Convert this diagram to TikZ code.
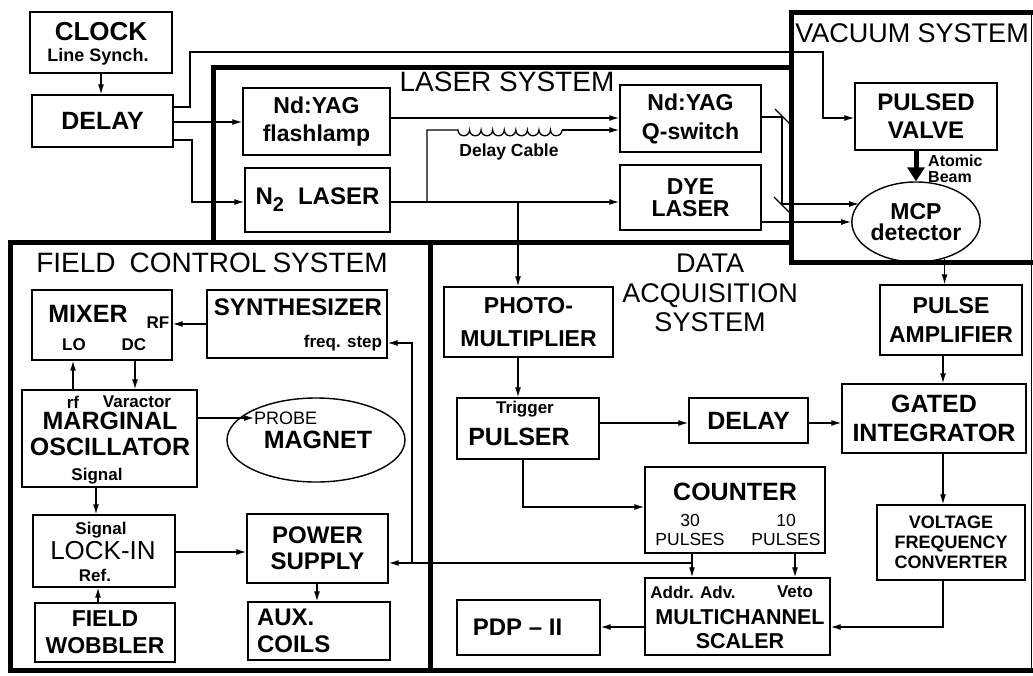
\documentclass[tikz,border=0pt]{standalone}
\usepackage{fontspec}
\setmainfont{Liberation Sans}
\usetikzlibrary{arrows.meta,shapes.geometric}
\newcommand\fsz[2]{\fontsize{#1}{#2}\selectfont}
\begin{document}
\begin{tikzpicture}[x=1pt,y=-1pt,
  box/.style={draw, line width=1.4pt, inner sep=0pt, align=center, font=\bfseries\fsz{24}{27}},
  lbl/.style={inner sep=0pt, font=\bfseries\fsz{17}{18}},
  big/.style={inner sep=0pt, align=center, font=\fsz{27}{29.5}},
  arr/.style={line width=1.3pt, -{Latex[length=10pt,width=6pt]}},
  ln/.style={line width=1.3pt},
  sys/.style={line width=5pt, line join=miter},
  mirror/.style={line width=1.3pt}]
\useasboundingbox (0,0) rectangle (1033,675);

% ---------- system frames ----------
\draw[sys] (213,242) -- (213,67) -- (791,67);
\draw[sys] (1040,12) -- (791,12) -- (791,262) -- (1040,262);
\draw[sys] (1040,670) -- (10,670) -- (10,242) -- (791,242);
\draw[sys] (430,242) -- (430,670);
\draw[line width=0.8pt] (1031,12) -- (1031,670);

\node[big, font=\fsz{28}{30}] (lasersys) at (507,82) {LASER SYSTEM};
\node[big] (vacsys) at (912,33) {VACUUM SYSTEM};
\node[big, font=\fsz{28}{30}] (fieldsys) at (212,263) {FIELD\hspace{14pt}CONTROL\hspace{6pt}SYSTEM};
\node[big] (dasys) at (710,293) {DATA\\ACQUISITION\\SYSTEM};

% ---------- top left ----------
\node[box, minimum width=142, minimum height=61] (clock) at (101,42.5) {};
\node[lbl, font=\bfseries\fsz{26}{26}] (clockt) at (101,32) {CLOCK};
\node[lbl, font=\bfseries\fsz{18}{18}] (linesync) at (98,57) {Line Synch.};
\node[box, minimum width=141, minimum height=52, font=\bfseries\fsz{25}{27}] (delay1) at (102.5,121) {DELAY};

% ---------- laser system ----------
\node[box, minimum width=147, minimum height=67, font=\bfseries\fsz{23}{28}] (flash) at (316.5,121.5) {Nd:YAG\\flashlamp};
\node[box, minimum width=145, minimum height=64] (n2) at (317.5,200) {N\raisebox{-7pt}{\fsz{20}{20}2}\hspace{14pt}LASER};
\node[box, minimum width=141, minimum height=67, font=\bfseries\fsz{23}{29}] (qsw) at (690.5,118.5) {Nd:YAG\\Q-switch};
\node[box, minimum width=141, minimum height=65, font=\bfseries\fsz{23}{22}] (dye) at (690.5,197.5) {DYE\\LASER};
\node[lbl, font=\bfseries\fsz{17.5}{18}] (dcable) at (509,152) {Delay Cable};

% ---------- vacuum system ----------
\node[box, minimum width=142, minimum height=67, font=\bfseries\fsz{24}{28}] (valve) at (926,116.5) {PULSED\\VALVE};
\node[box, ellipse, minimum width=118, minimum height=80, font=\bfseries\fsz{23}{21}] (mcp) at (916,222) {MCP\\detector};
\node[lbl, anchor=north west, align=left, font=\bfseries\fsz{16}{16}] (atomic) at (928,155) {Atomic\\Beam};

% ---------- field control ----------
\node[box, minimum width=140, minimum height=70] (mixer) at (102,325) {};
\node[lbl, font=\bfseries\fsz{25}{25}] (mixert) at (88,314) {MIXER};
\node[lbl] (rf1) at (158,323) {RF};
\node[lbl] (lo) at (74,345) {LO};
\node[lbl] (dc) at (134,345) {DC};

\node[box, minimum width=180, minimum height=68] (synth) at (297,324) {};
\node[lbl, font=\bfseries\fsz{24}{24}] (syntht) at (298,307) {SYNTHESIZER};
\node[lbl] (fstep) at (343,343) {freq. step};

\node[box, minimum width=175, minimum height=97] (marg) at (109.5,438.5) {};
\node[lbl] (rf2) at (73,402) {rf};
\node[lbl] (varactor) at (137,402) {Varactor};
\node[lbl, align=center, font=\bfseries\fsz{25}{26}] (margt) at (110,434) {MARGINAL\\OSCILLATOR};
\node[lbl] (signal1) at (97,476) {Signal};

\node[box, ellipse, minimum width=178, minimum height=84, font=\bfseries\fsz{25}{25}] (magnet) at (316,440) {\hspace{4pt}MAGNET};
\node[lbl, anchor=west, font=\fsz{18}{18}] (probe) at (254,418) {PROBE};

\node[box, minimum width=142, minimum height=72] (lockin) at (104,551) {};
\node[lbl] (signal2) at (101,530) {Signal};
\node[lbl, font=\fsz{26}{26}] (lockint) at (103,551) {LOCK-IN};
\node[lbl] (ref) at (95,575) {Ref.};

\node[box, minimum width=140, minimum height=59, font=\bfseries\fsz{23}{27}] (wobbler) at (105,632.5) {FIELD\\WOBBLER};
\node[box, minimum width=141, minimum height=69, font=\bfseries\fsz{24}{26}] (power) at (317.5,548.5) {POWER\\SUPPLY};
\node[box, minimum width=142, minimum height=58, text width=124pt, align=left, font=\bfseries\fsz{24}{27}] (aux) at (319,631) {AUX.\\COILS};

% ---------- data acquisition ----------
\node[box, minimum width=169, minimum height=70, font=\bfseries\fsz{23}{33}] (photo) at (528.5,322) {PHOTO-\\MULTIPLIER};
\node[box, minimum width=142, minimum height=61] (pulser) at (528,428.5) {};
\node[lbl] (trigger) at (525,409) {Trigger};
\node[lbl, font=\bfseries\fsz{25}{25}] (pulsert) at (519,437) {PULSER};
\node[box, minimum width=119, minimum height=45, font=\bfseries\fsz{25}{27}] (delay2) at (748.5,420.5) {DELAY};
\node[box, minimum width=142, minimum height=70, font=\bfseries\fsz{23}{29}] (pamp) at (951,320) {PULSE\\AMPLIFIER};
\node[box, minimum width=184, minimum height=69, font=\bfseries\fsz{25}{29}] (gated) at (934,418.5) {GATED\\INTEGRATOR};

\node[box, minimum width=180, minimum height=86] (counter) at (735,510) {};
\node[lbl, font=\bfseries\fsz{25}{25}] (countert) at (735,492) {COUNTER};
\node[lbl, align=center, font=\fsz{17.5}{19}] (p30) at (690,530) {30\\PULSES};
\node[lbl, align=center, font=\fsz{17.5}{19}] (p10) at (786,530) {10\\PULSES};

\node[box, minimum width=185, minimum height=77] (multi) at (737.5,616.5) {};
\node[lbl] (addr) at (693,592) {Addr. Adv.};
\node[lbl] (veto) at (795,592) {Veto};
\node[lbl, align=center, font=\bfseries\fsz{21.5}{24.5}] (multit) at (740,629) {MULTICHANNEL\\SCALER};

\node[box, minimum width=143, minimum height=55] (pdp) at (528.5,627.5) {\hspace{-22pt}PDP -- II};
\node[box, minimum width=148, minimum height=75, font=\bfseries\fsz{18}{20}] (vfc) at (951,542.5) {VOLTAGE\\FREQUENCY\\CONVERTER};

% ---------- connectors: top ----------
\draw[arr] (clock.south) -- (clock.south |- delay1.north);
\draw[arr] (delay1.east |- 0,107) -| (190,52) -| (823,118) -- (valve.west |- 823,118);
\draw[arr] (delay1.east |- 0,122) -- (flash.west |- 0,122);
\draw[arr] (delay1.east |- 0,140) -| (192,202) -- (n2.west |- 0,202);

\draw[arr] (flash.east |- 0,118) -- (qsw.west |- 0,118);
\coordinate (j1) at (518,202);
\draw[arr] (n2.east |- 0,202) -- (dye.west |- 0,202);
\draw[ln] (n2.east |- 0,202) -| (427,130) -- (458,130)
  \foreach \i in {1,...,9} { arc[start angle=180, end angle=360, radius=5.78pt] };
\draw[arr] (562,130) -- (qsw.west |- 0,130);
\draw[arr] (j1) -- (photo.north -| j1);

% laser beams to MCP via mirrors
\coordinate (m1) at (782,117);
\coordinate (m2) at (782,204);
\draw[ln] (qsw.east |- m1) -- (m1) -- (m2);
\draw[arr] (m2) -- (m2 -| mcp.161);
\draw[mirror] (775,109) -- (790,124);
\draw[mirror] (774,197) -- (789,212);
\draw[arr] (dye.east |- mcp.west) -- (mcp.west);

% atomic beam
\draw[line width=5pt, -{Triangle[length=14pt,width=17pt]}] (valve.south -| mcp.north) -- (mcp.north);

% ---------- connectors: data acquisition ----------
\coordinate (colx) at (943,0);
\draw[arr] (mcp.-52.8) -- (mcp.-52.8 |- pamp.north);
\draw[arr] (pamp.south -| colx) -- (gated.north -| colx);
\draw[arr] (gated.south -| colx) -- (vfc.north -| colx);
\draw[arr] (vfc.south -| colx) |- (multi.east |- 0,627);
\draw[arr] (multi.west |- 0,627) -- (pdp.east |- 0,627);
\draw[arr] (photo.south -| j1) -- (pulser.north -| j1);
\draw[arr] (pulser.east |- 0,423) -- (delay2.west |- 0,423);
\draw[arr] (delay2.east |- 0,423) -- (gated.west |- 0,423);
\draw[arr] (pulser.south -| 523,0) |- (counter.west |- 0,507);
\coordinate (c30) at (692,563);
\draw[arr] (counter.south -| c30) -- (multi.north -| c30);
\draw[arr] (counter.south -| 795,0) -- (multi.north -| 795,0);
\draw[arr] (c30) -- (power.east |- c30);
\draw[arr] (412,563) |- (synth.east |- 0,343);

% ---------- connectors: field control ----------
\draw[arr] (synth.west |- 0,324) -- (mixer.east |- 0,324);
\draw[arr] (marg.north -| 73,0) -- (mixer.south -| 73,0);
\draw[arr] (mixer.south -| 135,0) -- (marg.north -| 135,0);
\draw[arr] (marg.east |- probe.west) -- (probe.west);
\draw[arr] (marg.south -| 96,0) -- (lockin.north -| 96,0);
\draw[arr] (wobbler.north -| 98,0) -- (lockin.south -| 98,0);
\draw[arr] (lockin.east |- 0,552) -- (power.west |- 0,552);
\draw[arr] (power.south -| 317,0) -- (aux.north -| 317,0);
\end{tikzpicture}
\end{document}
